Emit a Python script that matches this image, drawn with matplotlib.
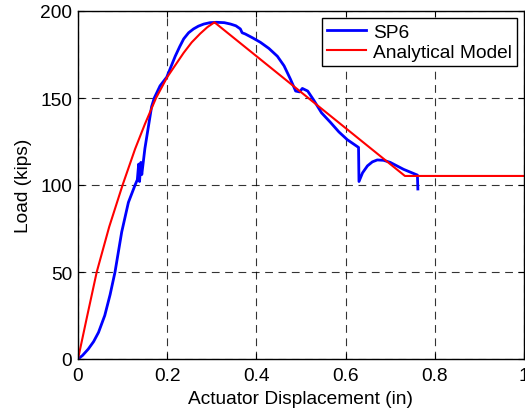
import matplotlib
matplotlib.use("Agg")
import matplotlib.pyplot as plt

# SP6 test data (displacement in, load kips)
sp6_x = [0.0, 0.01, 0.023, 0.035, 0.046, 0.06, 0.072, 0.083, 0.098, 0.113, 0.128,
         0.133, 0.136, 0.138, 0.141, 0.143, 0.15, 0.165, 0.171, 0.184, 0.199, 0.218,
         0.228, 0.237, 0.248, 0.259, 0.27, 0.282, 0.296, 0.311, 0.328, 0.342, 0.354,
         0.364, 0.368, 0.375, 0.392, 0.409, 0.428, 0.447, 0.462, 0.476,
         0.488, 0.497, 0.503, 0.515, 0.528, 0.546, 0.566, 0.585, 0.604, 0.629, 0.630,
         0.638, 0.649, 0.660, 0.671, 0.685, 0.70, 0.73, 0.761, 0.762]
sp6_y = [0.0, 2.0, 5.7, 10.0, 15.3, 25.0, 37.0, 50.0, 73.0, 90.0, 100.0,
         103.0, 112.0, 102.0, 113.0, 106.0, 121.0, 145.0, 150.0, 157.0, 162.0, 174.0,
         179.5, 184.0, 187.5, 189.7, 191.3, 192.5, 193.3, 193.5, 193.3, 192.5, 191.5,
         189.7, 187.5, 186.8, 184.5, 182.0, 178.5, 174.0, 168.5, 161.0,
         154.0, 153.5, 155.5, 154.0, 149.0, 141.5, 136.0, 130.5, 126.0, 121.6, 102.0,
         107.0, 111.0, 113.3, 114.4, 114.2, 113.0, 109.0, 105.7, 97.7]

# Analytical model
model_x = [0.0, 0.02, 0.042, 0.07, 0.10, 0.128, 0.15, 0.175, 0.2, 0.237,
           0.255, 0.274, 0.29, 0.306, 0.733, 1.0]
model_y = [0.0, 24.0, 50.0, 76.0, 100.0, 120.7, 135.0, 150.0, 162.0, 176.0,
           182.0, 187.0, 190.7, 193.5, 105.2, 105.2]

x_ticks = [0, 0.2, 0.4, 0.6, 0.8, 1]
x_ticklabels = ["0", "0.2", "0.4", "0.6", "0.8", "1"]
y_ticks = [0, 50, 100, 150, 200]

plt.rcParams['font.family'] = ['Liberation Sans', 'DejaVu Sans']
FS = 13.8

fig = plt.figure(figsize=(5.25, 4.10), dpi=100)
ax = fig.add_axes([78/525, 50/410, (524-78)/525, (360-12)/410])

ax.plot(sp6_x, sp6_y, color='#0000ff', lw=2.0, label='SP6')
ax.plot(model_x, model_y, color='#ff0000', lw=1.5, label='Analytical Model')

ax.set_xlim(0, 1)
ax.set_ylim(0, 200)
ax.set_xticks(x_ticks)
ax.set_xticklabels(x_ticklabels)
ax.set_yticks(y_ticks)
ax.tick_params(direction='in', length=4, labelsize=FS, width=0.8, top=True, right=True)
ax.tick_params(axis='x', pad=6)
ax.tick_params(axis='y', pad=4.3)
ax.grid(True, color='black', linestyle=(0, (7, 5)), lw=0.8, alpha=0.8)
for s in ax.spines.values():
    s.set_linewidth(1.0)

ax.set_xlabel('Actuator Displacement (in)', fontsize=FS, labelpad=4)
ax.set_ylabel('Load (kips)', fontsize=FS, labelpad=6)

leg = ax.legend(loc='upper right', fontsize=FS, frameon=True, fancybox=False,
                edgecolor='black', framealpha=1, borderaxespad=0.35,
                handlelength=2.0, handletextpad=0.36, borderpad=0.3,
                labelspacing=0.12)
leg.get_frame().set_linewidth(1.0)

fig.savefig('out.png', dpi=100)
